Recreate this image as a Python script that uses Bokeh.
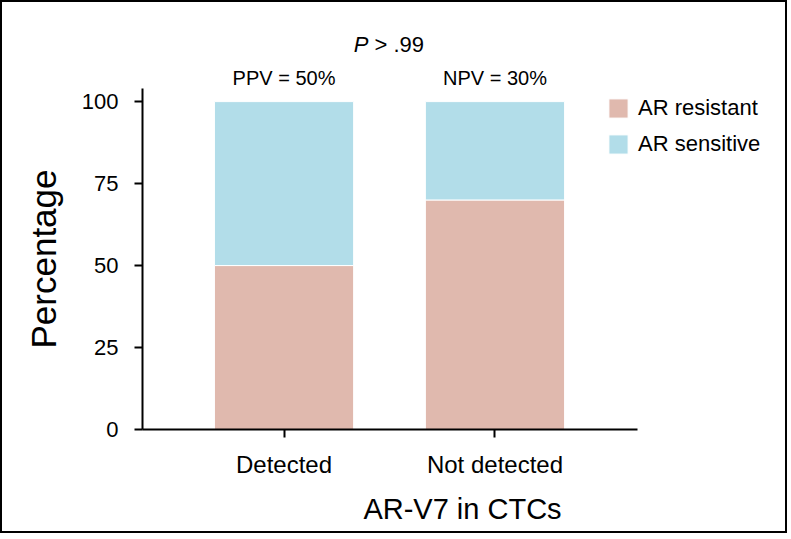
from bokeh.plotting import figure
from bokeh.layouts import column
from bokeh.models import Range1d, FixedTicker, Legend
from bokeh.core.properties import value
from bokeh.embed import file_html
from bokeh.resources import INLINE

categories = ["Detected", "Not detected"]
ar_resistant = [50, 70]
ar_sensitive = [50, 30]
y_ticks = [0, 25, 50, 75, 100]
top_labels = ["PPV = 50%", "NPV = 30%"]
p_letter = "P"
p_value_text = "> .99"

FONT = "Liberation Sans"
C_RES = "#e0b9ae"
C_SEN = "#b2dde9"
W = 783

xpos = list(range(len(categories)))
data = {"x": xpos, "AR resistant": ar_resistant, "AR sensitive": ar_sensitive}
xr = Range1d(-0.671, 2.363)

# --- header strip with the annotation texts ---
top = figure(width=W, height=86, x_range=xr, y_range=Range1d(0, 86),
             output_backend="svg", toolbar_location=None,
             x_axis_location=None, y_axis_location=None,
             min_border_left=140, min_border_right=3, min_border_top=0, min_border_bottom=0)
top.xgrid.visible = False
top.ygrid.visible = False
top.outline_line_color = None
top.text(x=xpos, y=[11] * len(xpos), text=top_labels, text_align="center", text_baseline="middle",
         text_font=value(FONT), text_font_size="20px", text_color="black")
mid = sum(xpos) / len(xpos)
top.text(x=[mid], y=[44], text=[p_letter], x_offset=-21, text_align="right", text_baseline="middle",
         text_font=value(FONT), text_font_size="22px", text_font_style="italic", text_color="black")
top.text(x=[mid], y=[44], text=[p_value_text], x_offset=-15, text_align="left", text_baseline="middle",
         text_font=value(FONT), text_font_size="22px", text_color="black")

# --- main chart ---
p = figure(
    width=W, height=443,
    x_range=xr, y_range=Range1d(0, 104),
    output_backend="svg", toolbar_location=None,
    min_border_left=140, min_border_right=3, min_border_top=0, min_border_bottom=102,
)

r = p.vbar_stack(["AR resistant", "AR sensitive"], x="x", width=0.66, source=data,
                 color=[C_RES, C_SEN], line_color="white", line_width=1)

p.xgrid.visible = False
p.ygrid.visible = False
p.outline_line_color = None

for ax in (p.xaxis, p.yaxis):
    ax.axis_line_width = 2
    ax.axis_line_color = "black"
    ax.major_tick_line_width = 2
    ax.major_tick_line_color = "black"
    ax.major_tick_out = 8
    ax.major_tick_in = 0
    ax.minor_tick_line_color = None
    ax.major_label_text_font = FONT
    ax.major_label_text_color = "black"
    ax.axis_label_text_font = FONT
    ax.axis_label_text_color = "black"
    ax.axis_label_text_font_style = "normal"

p.yaxis.ticker = FixedTicker(ticks=y_ticks)
p.yaxis.major_label_text_font_size = "22px"
p.yaxis.major_label_standoff = 16
p.yaxis.axis_label = "Percentage"
p.yaxis.axis_label_text_font_size = "35px"
p.yaxis.axis_label_standoff = 16

p.xaxis.ticker = FixedTicker(ticks=xpos)
p.xaxis.major_label_overrides = {i: c for i, c in zip(xpos, categories)}
p.xaxis.bounds = (-0.671, 1.675)
p.xaxis.major_label_text_font_size = "24px"
p.xaxis.major_label_standoff = 13
p.xaxis.axis_label = "AR-V7 in CTCs"
p.xaxis.axis_label_text_font_size = "29px"
p.xaxis.axis_label_standoff = 12

legend = Legend(
    items=[(name, [rr]) for name, rr in zip(["AR resistant", "AR sensitive"], r)],
    location=(464, 272), orientation="vertical",
    padding=0, margin=0, spacing=10,
    glyph_width=24, glyph_height=24, label_height=24, label_standoff=8,
    label_text_font=FONT, label_text_font_size="22px", label_text_color="black",
    border_line_color=None, background_fill_alpha=0,
)
p.add_layout(legend, "center")

layout = column(top, p, spacing=0)
layout.styles = {"border": "2px solid black"}

open("out.html", "w").write(file_html(layout, INLINE))
